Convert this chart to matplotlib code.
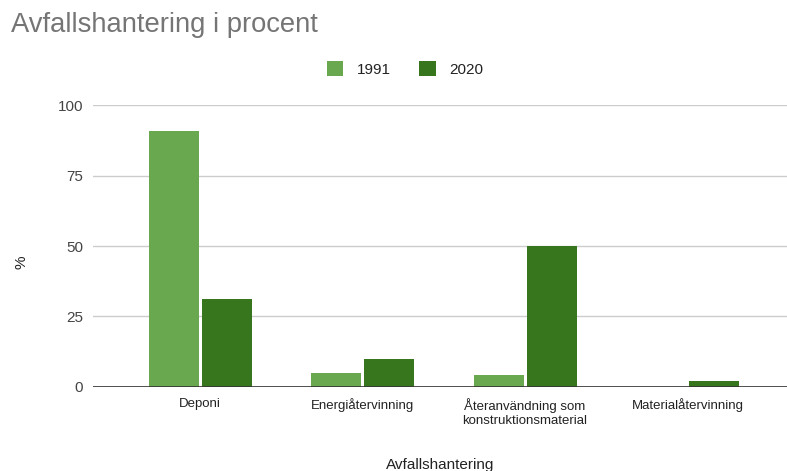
import numpy as np
import matplotlib.pyplot as plt

plt.rcParams['font.family'] = ['Liberation Sans', 'DejaVu Sans']

categories = ['Deponi', 'Energiåtervinning',
              'Återanvändning som\nkonstruktionsmaterial', 'Materialåtervinning']
years = ['1991', '2020']
values_1991 = [91, 5, 4, 0]
values_2020 = [31, 10, 50, 2]
colors = ['#6aa84f', '#38761d']

fig = plt.figure(figsize=(7.87, 4.71), dpi=100)
ax = fig.add_axes([93 / 787, 84.3 / 471, 694 / 787, 281.4 / 471])

x = np.arange(len(categories))
w = 50 / 162.5
gap = 3 / 162.5
ax.bar(x - (w + gap) / 2, values_1991, w, color=colors[0], label=years[0], zorder=3)
ax.bar(x + (w + gap) / 2, values_2020, w, color=colors[1], label=years[1], zorder=3)

ax.set_xlim(-107 / 162.5, 3 + 99.5 / 162.5)
ax.set_ylim(0, 100)
ax.set_yticks([0, 25, 50, 75, 100])
ax.yaxis.grid(True, color='#cccccc', linewidth=1)
ax.axhline(0, color='#333333', linewidth=1.2, zorder=4)
for s in ax.spines.values():
    s.set_visible(False)
ax.tick_params(axis='y', length=0, pad=7, labelsize=11, labelcolor='#444444')
ax.tick_params(axis='x', length=0, pad=8, labelsize=9.5, labelcolor='#222222')
ax.set_xticks(x)
ax.set_xticklabels(categories, linespacing=1.25)

ax.set_ylabel('%', fontsize=11, color='#222222')
ax.yaxis.set_label_coords((28 - 93) / 694, 0.443)
fig.text(440 / 787, 1 - 465 / 471, 'Avfallshantering', ha='center', va='center',
         fontsize=11, color='#222222')

fig.text(11 / 787, 1 - 25 / 471, 'Avfallshantering i procent', ha='left', va='center',
         fontsize=19.7, color='#757575')

fig.legend(loc='center', bbox_to_anchor=(405 / 787, 1 - 69 / 471), ncol=2, frameon=False,
           fontsize=11, handlelength=1.1, handleheight=1.1, handletextpad=0.9,
           columnspacing=1.8, labelcolor='#222222')

fig.savefig('out.png', dpi=100)
